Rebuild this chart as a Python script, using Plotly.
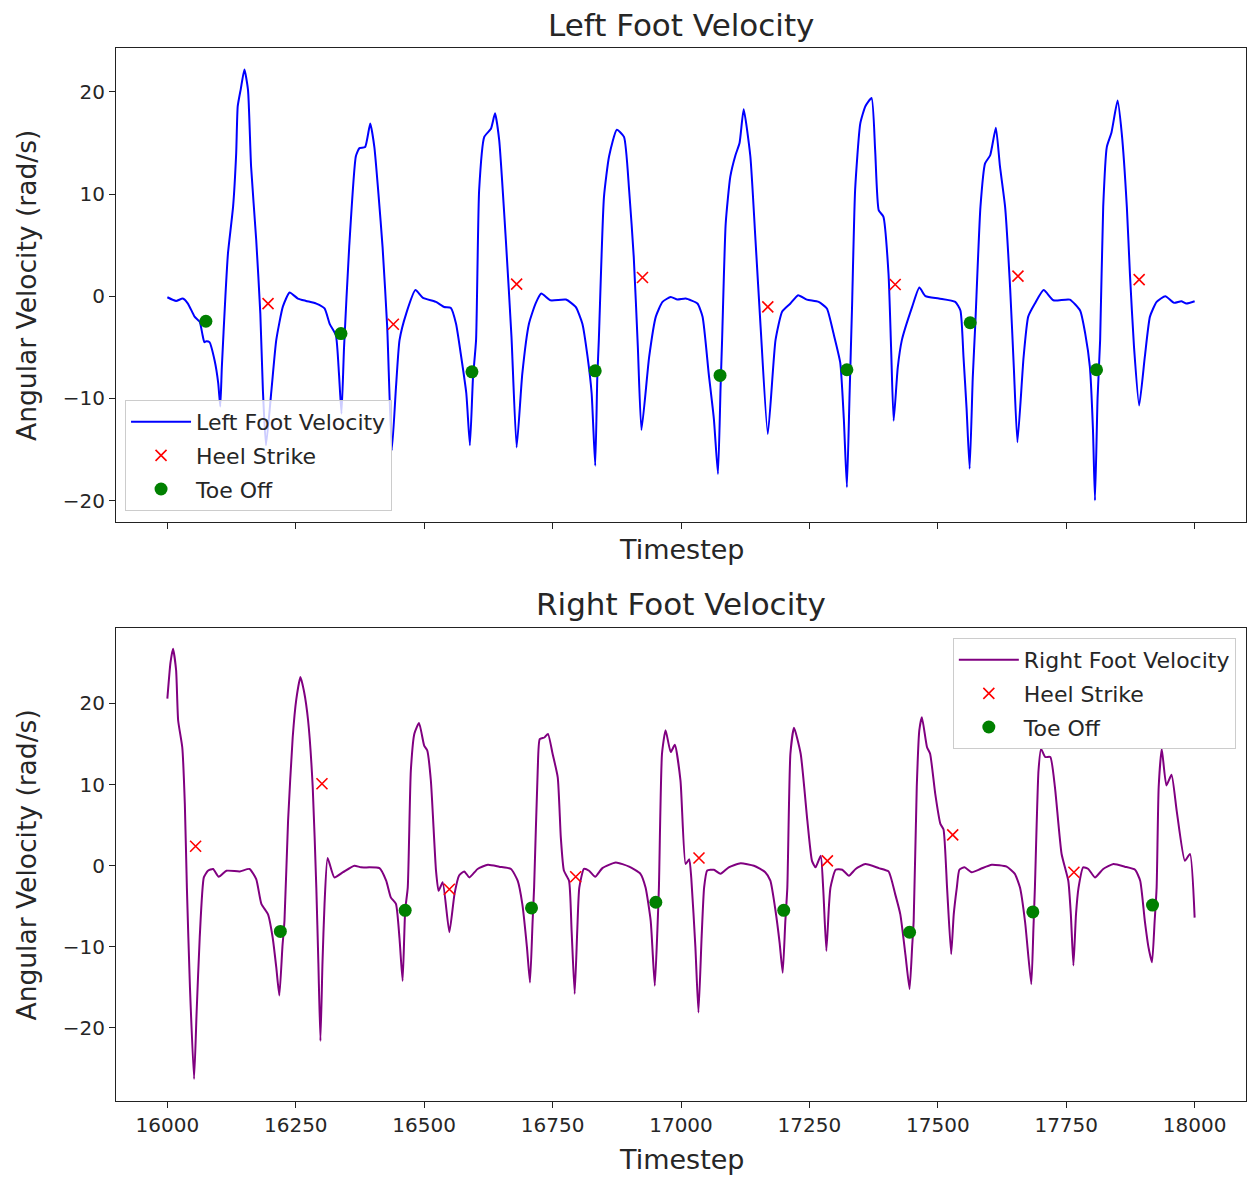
import plotly.graph_objects as go

# ---- Left foot angular velocity (timestep, rad/s) ----
left_t = [16000, 16017, 16030, 16040, 16053, 16063, 16068, 16072, 16076, 16082, 16092, 16099, 16103, 16106,
          16113, 16118, 16128, 16134, 16137, 16143, 16150, 16157, 16163, 16173, 16181, 16186, 16192, 16203,
          16212, 16225, 16238, 16254, 16270, 16290, 16306, 16316, 16328, 16334, 16339, 16344, 16354, 16367,
          16374, 16385, 16395, 16403, 16411, 16419, 16428, 16437, 16445, 16452, 16465, 16483, 16497, 16523,
          16539, 16552, 16562, 16572, 16582, 16589, 16595, 16601, 16607, 16617, 16630, 16638, 16646, 16659,
          16670, 16680, 16691, 16704, 16717, 16728, 16746, 16776, 16795, 16808, 16818, 16826, 16833, 16837,
          16840, 16850, 16860, 16875, 16889, 16899, 16908, 16916, 16923, 16938, 16951, 16964, 16980, 16993,
          17009, 17032, 17042, 17054, 17064, 17072, 17077, 17080, 17087, 17096, 17106, 17114, 17122, 17135,
          17145, 17155, 17169, 17184, 17197, 17213, 17228, 17245, 17268, 17284, 17297, 17310, 17317, 17323,
          17328, 17333, 17339, 17349, 17359, 17371, 17378, 17385, 17394, 17404, 17409, 17414, 17422, 17430,
          17450, 17464, 17476, 17502, 17534, 17544, 17550, 17556, 17562, 17568, 17573, 17583, 17592, 17602,
          17613, 17621, 17631, 17641, 17648, 17655, 17667, 17676, 17689, 17706, 17725, 17757, 17777, 17787,
          17796, 17802, 17806, 17811, 17816, 17822, 17829, 17838, 17850, 17858, 17868, 17874, 17882, 17892,
          17903, 17913, 17926, 17943, 17960, 17974, 17984, 18000]
left_v = [-0.1, -0.46, -0.23, -0.72, -2.0, -2.5, -3.66, -4.5, -4.4, -4.5, -6.3, -8.5, -10.8, -7.0,
          0.0, 4.2, 8.8, 14.0, 18.6, 20.3, 22.2, 20.2, 12.7, 5.5, -1.7, -9.2, -14.6, -9.0,
          -4.3, -1.0, 0.36, -0.23, -0.46, -0.72, -1.2, -2.7, -3.8, -7.5, -11.5, -5.0, 4.8, 13.7,
          14.5, 14.6, 16.9, 14.6, 10.0, 4.8, -3.0, -15.1, -9.0, -4.3, -1.7, 0.6, -0.13, -0.56,
          -1.05, -1.15, -2.7, -5.9, -9.5, -14.6, -8.0, -4.3, 10.4, 15.6, 16.4, 17.9, 15.3, 5.5,
          -4.0, -14.8, -7.6, -2.7, -0.7, 0.26, -0.4, -0.33, -1.05, -2.7, -5.9, -9.5, -16.6, -8.0,
          -4.3, 9.7, 13.7, 16.3, 15.6, 10.4, 3.85, -5.0, -13.1, -5.95, -2.0, -0.56, -0.07, -0.33,
          -0.23, -0.72, -2.0, -7.6, -12.0, -17.4, -9.0, -4.3, 7.1, 11.7, 13.8, 15.0, 18.3, 13.7,
          5.5, -3.0, -13.5, -4.3, -1.5, -0.72, 0.1, -0.33, -0.56, -1.2, -3.66, -6.5, -12.0, -18.7,
          -10.0, -1.05, 10.4, 16.9, 18.6, 19.4, 14.3, 8.4, 7.8, 2.2, -5.0, -12.2, -7.0, -4.3,
          -1.05, 0.85, 0.0, -0.23, -0.56, -1.4, -5.95, -11.0, -16.9, -8.0, -2.7, 8.75, 13.0, 13.8,
          16.5, 12.7, 8.75, 0.6, -7.0, -14.3, -5.95, -2.0, -0.72, 0.6, -0.4, -0.33, -1.4, -3.66,
          -6.9, -13.0, -20.0, -10.0, -4.3, 8.75, 14.6, 16.0, 19.15, 16.0, 8.75, 2.2, -5.0, -10.7,
          -5.95, -2.0, -0.56, 0.0, -0.65, -0.5, -0.72, -0.5]

left_heel_t = [16196, 16440, 16680, 16925, 17169, 17417, 17656, 17892]
left_heel_v = [-0.72, -2.75, 1.18, 1.83, -1.05, 1.15, 1.96, 1.63]
left_toe_t = [16075, 16338, 16593, 16833, 17076, 17323, 17563, 17809]
left_toe_v = [-2.45, -3.66, -7.4, -7.3, -7.75, -7.2, -2.6, -7.2]

# ---- Right foot angular velocity (timestep, rad/s) ----
right_t = [16000, 16006, 16011, 16017, 16021, 16029, 16034, 16038, 16044, 16052, 16057, 16063, 16071, 16079,
           16089, 16100, 16115, 16141, 16160, 16173, 16183, 16196, 16205, 16212, 16218, 16224, 16228, 16235,
           16244, 16251, 16259, 16266, 16274, 16283, 16290, 16294, 16298, 16302, 16306, 16312, 16325, 16342,
           16364, 16377, 16413, 16426, 16435, 16445, 16452, 16458, 16463, 16468, 16474, 16481, 16490, 16500,
           16506, 16513, 16523, 16528, 16536, 16549, 16559, 16568, 16578, 16588, 16604, 16624, 16646, 16669,
           16682, 16691, 16700, 16706, 16711, 16714, 16721, 16725, 16734, 16741, 16750, 16760, 16766, 16772,
           16782, 16787, 16793, 16798, 16802, 16811, 16821, 16833, 16847, 16873, 16899, 16921, 16931, 16941,
           16949, 16954, 16957, 16963, 16970, 16980, 16988, 16999, 17009, 17016, 17020, 17028, 17034, 17040,
           17045, 17051, 17064, 17077, 17093, 17116, 17142, 17164, 17174, 17184, 17192, 17198, 17203, 17207,
           17213, 17220, 17233, 17246, 17255, 17262, 17272, 17277, 17283, 17288, 17291, 17301, 17314, 17327,
           17340, 17359, 17385, 17404, 17417, 17427, 17437, 17445, 17450, 17453, 17459, 17464, 17469, 17479,
           17485, 17495, 17505, 17511, 17518, 17526, 17531, 17537, 17542, 17552, 17566, 17583, 17605, 17634,
           17650, 17660, 17670, 17682, 17686, 17689, 17696, 17701, 17709, 17719, 17728, 17741, 17754, 17759,
           17764, 17769, 17774, 17783, 17793, 17806, 17822, 17842, 17864, 17884, 17894, 17903, 17910, 17917,
           17922, 17926, 17930, 17936, 17945, 17955, 17965, 17981, 17991, 18000]
right_v = [20.6, 25.0, 26.75, 24.1, 17.9, 14.6, 7.6, -2.7, -15.0, -26.3, -18.0, -8.85, -1.44, -0.62,
           -0.4, -1.36, -0.62, -0.7, -0.4, -1.65, -4.7, -6.0, -8.85, -12.5, -16.0, -10.0, -6.8, 5.55,
           15.8, 20.5, 23.25, 21.5, 17.9, 9.7, -2.7, -12.0, -21.6, -12.0, -4.7, 0.95, -1.44, -0.8,
           0.0, -0.2, -0.3, -1.85, -3.9, -4.7, -9.0, -14.2, -5.5, -2.7, 11.7, 16.3, 17.6, 14.8,
           14.2, 10.5, -0.6, -3.1, -2.05, -8.2, -3.5, -1.2, -0.7, -1.44, -0.4, 0.12, -0.12, -0.4,
           -1.85, -4.7, -10.0, -14.4, -7.0, -2.7, 11.7, 15.6, 15.8, 16.25, 13.8, 10.9, 3.5, -0.6,
           -1.85, -8.0, -15.8, -8.0, -2.7, -0.4, -0.62, -1.36, -0.3, 0.4, -0.12, -1.0, -2.7, -6.8,
           -14.8, -8.0, -2.7, 13.8, 16.7, 14.0, 14.9, 10.5, 0.2, 0.8, -1.5, -10.0, -18.1, -9.0,
           -2.7, -0.6, -0.5, -1.0, -0.2, 0.3, 0.0, -0.8, -1.85, -5.55, -9.5, -13.2, -7.0, -2.7,
           13.8, 17.0, 13.8, 5.55, 0.6, -0.2, 1.23, -3.0, -10.5, -5.0, -2.7, -0.5, -0.5, -1.23,
           -0.4, 0.2, -0.3, -0.7, -3.5, -6.0, -11.0, -15.2, -10.0, -6.8, 9.7, 16.7, 18.3, 14.6,
           13.8, 8.85, 5.15, 4.5, -2.7, -10.9, -6.0, -2.7, -0.5, -0.2, -0.8, -0.4, 0.12, -0.12,
           -1.0, -2.7, -7.0, -14.6, -8.0, -2.7, 11.7, 14.4, 13.4, 13.4, 9.7, 1.44, -1.85, -6.0,
           -12.3, -6.0, -2.7, -0.2, -0.4, -1.44, -0.4, 0.2, -0.12, -0.5, -1.85, -6.8, -10.0, -11.9,
           -7.0, -2.7, 9.7, 14.4, 9.9, 11.2, 6.8, 0.6, 1.44, -6.4]

right_heel_t = [16055, 16301, 16549, 16795, 17035, 17285, 17529, 17765]
right_heel_v = [2.4, 10.1, -2.9, -1.36, 0.95, 0.6, 3.8, -0.8]
right_toe_t = [16220, 16463, 16709, 16951, 17200, 17445, 17685, 17918]
right_toe_v = [-8.1, -5.5, -5.2, -4.5, -5.5, -8.2, -5.7, -4.85]

x_ticks = [16000, 16250, 16500, 16750, 17000, 17250, 17500, 17750, 18000]
y_ticks = [-20, -10, 0, 10, 20]

FONT = "DejaVu Sans"
TXT = "#262626"
LEG_FONT = 22

fig = go.Figure()

line_style = dict(width=2, shape="spline", smoothing=0.5)
heel_marker = dict(symbol="x-thin", size=11, color="red", line=dict(color="red", width=1.6))
toe_marker = dict(symbol="circle", size=13, color="#008000")

# top panel
fig.add_trace(go.Scatter(x=left_t, y=left_v, mode="lines", name="Left Foot Velocity",
                         line=dict(line_style, color="#0000ff"), xaxis="x", yaxis="y",
                         legend="legend", legendgroup="a"))
fig.add_trace(go.Scatter(x=left_heel_t, y=left_heel_v, mode="markers", name="Heel Strike",
                         marker=heel_marker, xaxis="x", yaxis="y", legend="legend", legendgroup="b"))
fig.add_trace(go.Scatter(x=left_toe_t, y=left_toe_v, mode="markers", name="Toe Off",
                         marker=toe_marker, xaxis="x", yaxis="y", legend="legend", legendgroup="c"))

# bottom panel
fig.add_trace(go.Scatter(x=right_t, y=right_v, mode="lines", name="Right Foot Velocity",
                         line=dict(line_style, color="#800080"), xaxis="x2", yaxis="y2",
                         legend="legend2", legendgroup="d"))
fig.add_trace(go.Scatter(x=right_heel_t, y=right_heel_v, mode="markers", name="Heel Strike",
                         marker=heel_marker, xaxis="x2", yaxis="y2", legend="legend2", legendgroup="e"))
fig.add_trace(go.Scatter(x=right_toe_t, y=right_toe_v, mode="markers", name="Toe Off",
                         marker=toe_marker, xaxis="x2", yaxis="y2", legend="legend2", legendgroup="f"))

axis_common = dict(showline=True, linecolor="#222", linewidth=1, mirror=True,
                   ticks="outside", ticklen=6, tickcolor="#222", tickwidth=1,
                   showgrid=False, zeroline=False,
                   tickfont=dict(family=FONT, size=20, color=TXT))

y_text = [str(v).replace("-", "\u2212") for v in y_ticks]

legend_common = dict(bgcolor="rgba(255,255,255,0.8)", bordercolor="#cccccc", borderwidth=1,
                     font=dict(family=FONT, size=LEG_FONT, color=TXT), tracegroupgap=2,
                     traceorder="grouped", itemwidth=60)

fig.update_layout(
    width=1247, height=1177,
    margin=dict(l=116, r=1, t=48, b=76),
    paper_bgcolor="white", plot_bgcolor="white",
    showlegend=True,
    xaxis=dict(axis_common, domain=[0, 1], anchor="y", range=[15900, 18100],
               tickvals=x_ticks, showticklabels=False),
    yaxis=dict(axis_common, domain=[0.5499, 1], anchor="x", range=[-22.1, 24.3],
               tickvals=y_ticks, ticktext=y_text),
    xaxis2=dict(axis_common, domain=[0, 1], anchor="y2", range=[15900, 18100],
                tickvals=x_ticks, ticktext=[str(v) for v in x_ticks], matches="x"),
    yaxis2=dict(axis_common, domain=[0, 0.4492], anchor="x2", range=[-29.0, 29.3],
                tickvals=y_ticks, ticktext=y_text),
    legend=dict(legend_common, x=0.008, y=0.5603, xanchor="left", yanchor="bottom"),
    legend2=dict(legend_common, x=0.991, y=0.4397, xanchor="right", yanchor="top"),
)

def label(text, x, y, size, angle=0):
    fig.add_annotation(text=text, x=x, y=y, xref="paper", yref="paper",
                       xanchor="center", yanchor="middle", showarrow=False,
                       textangle=angle, font=dict(family=FONT, size=size, color=TXT))

label("Left Foot Velocity", 0.5, 1.0218, 31)
label("Right Foot Velocity", 0.5, 0.472, 31)
label("Timestep", 0.5, 0.5242, 27)
label("Timestep", 0.5, -0.056, 27)
label("Angular Velocity (rad/s)", -0.0788, 0.775, 26.5, -90)
label("Angular Velocity (rad/s)", -0.0788, 0.2246, 26.5, -90)

fig.write_html("out.html")
